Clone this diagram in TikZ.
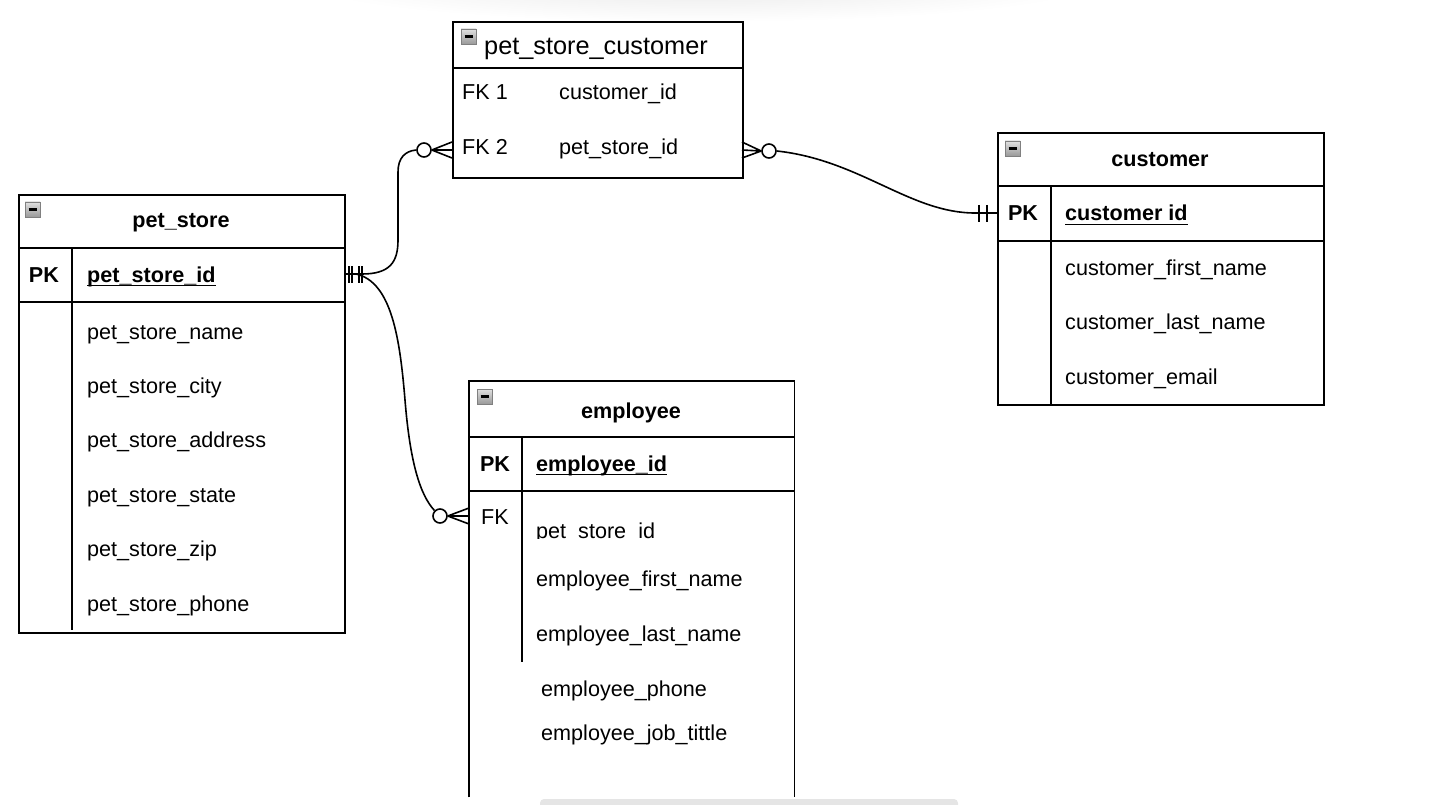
\documentclass[tikz,border=0pt]{standalone}
\usepackage{fontspec}
\setmainfont{Liberation Sans}
\begin{document}
\begin{tikzpicture}[x=1pt,y=-1pt,
  ent/.style={draw=black, line width=1.6, fill=white, inner sep=0, anchor=north west},
  entopen/.style={inner sep=0, anchor=north west},
  rule/.style={line width=1.6},
  fld/.style={anchor=base west, inner sep=0, font=\fontsize{21.6}{24}\selectfont},
  keytxt/.style={anchor=base, inner sep=0, font=\fontsize{21.6}{24}\selectfont},
  pktxt/.style={anchor=base, inner sep=0, font=\fontsize{21.6}{24}\selectfont\bfseries},
  pkfld/.style={anchor=base west, inner sep=0, font=\fontsize{21.6}{24}\selectfont\bfseries},
  ttl/.style={anchor=base, inner sep=0, font=\fontsize{21.6}{24}\selectfont\bfseries},
  uline/.style={line width=1.8},
  conn/.style={line width=1.6},
  ring/.style={circle, draw=black, line width=1.6, fill=white, minimum size=14, inner sep=0},
  minusbox/.pic={
    \shade[top color=black!12, bottom color=black!40, draw=black!50, line width=0.8]
      (0,0) rectangle (15,15);
    \draw[line width=2.2] (3.5,7.5) -- (11.5,7.5);
  },
]
\useasboundingbox (0,0) rectangle (1435,805);

% faint shadow along the top edge and scroll bar at the bottom
\begin{scope}
  \clip (0,0) rectangle (1435,805);
  \shade[inner color=black!9, outer color=white] (700,-18) ellipse [x radius=400, y radius=40];
  \fill[black!10, rounded corners=4] (540,799) rectangle (958,812);
\end{scope}

% ---------------- pet_store_customer ----------------
\node[ent, minimum width=290, minimum height=156] (psc) at (452,21) {};
\draw[rule] (452,68) -- (742,68);
\pic at (461,29) {minusbox};
\node[anchor=base west, inner sep=0, font=\fontsize{25.3}{28}\selectfont] (psct) at (484,55) {pet\_store\_customer};
\node[fld] (pscfk1) at (462,100) {FK 1};
\node[fld] (pscf1) at (559,100) {customer\_id};
\node[fld] (pscfk2) at (462,155) {FK 2};
\node[fld] (pscf2) at (559,155) {pet\_store\_id};

% ---------------- customer ----------------
\node[ent, minimum width=326, minimum height=272] (cust) at (997,132) {};
\draw[rule] (997,186) -- (1323,186);
\draw[rule] (997,241) -- (1323,241);
\draw[rule] (1051,186) -- (1051,404);
\pic at (1005,141) {minusbox};
\node[ttl] (custt) at (1160,167) {customer};
\node[pktxt] (custpk) at (1023,221) {PK};
\node[pkfld] (custid) at (1065,221) {customer id};
\draw[uline] ([yshift=-3.5]custid.base west) -- ([yshift=-3.5]custid.base east);
\node[fld] (custf1) at (1065,275) {customer\_first\_name};
\node[fld] (custf2) at (1065,329) {customer\_last\_name};
\node[fld] (custf3) at (1065,384) {customer\_email};

% ---------------- pet_store ----------------
\node[ent, minimum width=326, minimum height=438] (ps) at (18,194) {};
\draw[rule] (18,248) -- (344,248);
\draw[rule] (18,302) -- (344,302);
\draw[rule] (72,248) -- (72,630);
\pic at (25,202) {minusbox};
\node[ttl] (pst) at (181,228) {pet\_store};
\node[pktxt] (pspk) at (44,282) {PK};
\node[pkfld] (psid) at (87,282) {pet\_store\_id};
\draw[uline] ([yshift=-3.5]psid.base west) -- ([yshift=-3.5]psid.base east);
\node[fld] (psf1) at (87,339) {pet\_store\_name};
\node[fld] (psf2) at (87,393) {pet\_store\_city};
\node[fld] (psf3) at (87,447) {pet\_store\_address};
\node[fld] (psf4) at (87,502) {pet\_store\_state};
\node[fld] (psf5) at (87,556) {pet\_store\_zip};
\node[fld] (psf6) at (87,611) {pet\_store\_phone};

% ---------------- employee (open at the bottom) ----------------
\node[entopen, minimum width=325, minimum height=416] (emp) at (469,381) {};
\draw[rule] (emp.south west) -- (emp.north west) -- (emp.north east) -- (emp.south east);
\draw[rule] (469,437) -- (794,437);
\draw[rule] (469,491) -- (794,491);
\draw[rule] (522,437) -- (522,662);
\pic at (477,389) {minusbox};
\node[ttl] (empt) at (631,418) {employee};
\node[pktxt] (emppk) at (495,471) {PK};
\node[pkfld] (empid) at (536,471) {employee\_id};
\draw[uline] ([yshift=-3.5]empid.base west) -- ([yshift=-3.5]empid.base east);
\node[keytxt] (empfk) at (495,524) {FK};
\begin{scope}
  \clip (530,500) rectangle (790,538);
  \node[fld] (empf0) at (536,538) {pet\_store\_id};
\end{scope}
\node[fld] (empf1) at (536,586) {employee\_first\_name};
\node[fld] (empf2) at (536,641) {employee\_last\_name};
\node[fld] (empf3) at (541,696) {employee\_phone};
\node[fld] (empf4) at (541,740) {employee\_job\_tittle};

% ---------------- connectors ----------------
\coordinate (psR) at (344,274);
\coordinate (pscL) at (452,150);
\coordinate (pscR) at (742,150);
\coordinate (custL) at (997,213);
\coordinate (empL) at (469,516);

% pet_store (one) -> pet_store_customer (zero or many)
\node[ring] (r1) at (424,150) {};
\draw[conn] (psR) -- (362,274) .. controls (390,274) and (398,262) .. (398,240)
  -- (398,172) .. controls (398,158) and (405,151) .. (r1.west);
\draw[conn] (r1.east) -- (452,142) (r1.east) -- (pscL) (r1.east) -- (452,158);

% pet_store (one) -> employee (zero or many)
\node[ring] (r2) at (440,516) {};
\draw[conn] (psR) -- (356,274) .. controls (392,282) and (400,340) .. (405,400)
  .. controls (410,462) and (420,495) .. (r2.north west);
\draw[conn] (r2.east) -- (469,508) (r2.east) -- (empL) (r2.east) -- (469,524);

% one-and-only-one marks at pet_store
\draw[conn] (349,266) -- (349,283);
\draw[conn] (352,266) -- (352,283);
\draw[conn] (359,266) -- (359,283);
\draw[conn] (362,266) -- (362,283);

% customer (one) -> pet_store_customer (zero or many)
\node[ring] (r3) at (769,151) {};
\draw[conn] (r3.east) .. controls (860,160) and (910,213) .. (975,213) -- (custL);
\draw[conn] (r3.west) -- (742,142) (r3.west) -- (pscR) (r3.west) -- (742,158);
\draw[conn] (979,205) -- (979,222);
\draw[conn] (987,205) -- (987,222);
\end{tikzpicture}
\end{document}
